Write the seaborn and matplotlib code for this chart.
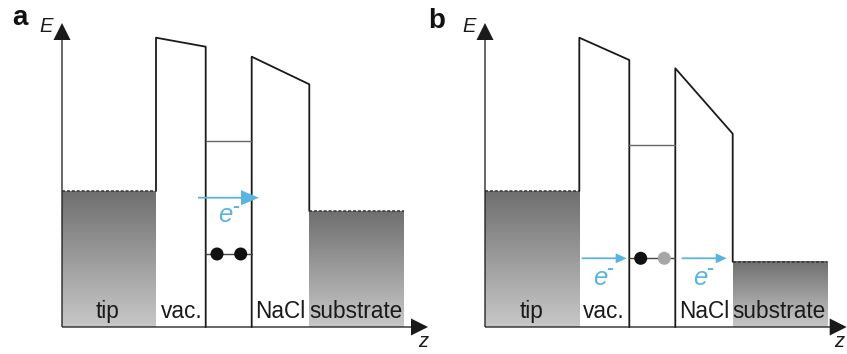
import numpy as np
import pandas as pd
import matplotlib
matplotlib.use("Agg")
import matplotlib.pyplot as plt
from matplotlib.colors import LinearSegmentedColormap
import seaborn as sns

# ---------------- data (schematic energy levels, arbitrary units) ----------------
# region edges along z: tip | vac. | molecule | NaCl | substrate
A_edges = [0, 94, 143.7, 189.7, 247.3, 342.3]
A_fermi_tip = 136
A_fermi_sub = 116
A_vac_top = [289.3, 280.3]
A_nacl_top = [270.3, 242.7]
A_level_unocc = 186.3
A_level_occ = 73
A_dot_z = [155, 178.7]
A_dot_colors = ["#111111", "#111111"]
A_e_arrows = [(136, 197, 129.3)]
A_e_labels = [(163.7, 105)]

B_edges = [0, 94.3, 144.3, 190.3, 247.7, 342.3]
B_fermi_tip = 136
B_fermi_sub = 65.3
B_vac_top = [289.3, 267.0]
B_nacl_top = [258.7, 193.3]
B_level_unocc = 182
B_level_occ = 68.7
B_dot_z = [155.7, 179.3]
B_dot_colors = ["#111111", "#a6a6a6"]
B_e_arrows = [(96.7, 141.7, 68.7), (196.7, 241.7, 68.7)]
B_e_labels = [(115, 42), (215, 42)]

region_labels = ["tip", "vac.", "NaCl", "substrate"]
A_label_z = [46, 119.7, 218, 294]
B_label_z = [47, 119, 219, 294]

panel_letters = ["a", "b"]

# ---------------- style ----------------
sns.set_style("white")
plt.rcParams["font.family"] = ["Liberation Sans", "DejaVu Sans"]

LINE = "#1a1a1a"
BLUE = "#5ab4e0"
grad_cmap = LinearSegmentedColormap.from_list("g", ["#c8c8c8", "#6f6f6f"])

fig = plt.figure(figsize=(8.47, 3.54), dpi=100)
ax_a = fig.add_axes([0, 0, 423 / 847, 1])
ax_b = fig.add_axes([423 / 847, 0, 424 / 847, 1])


def draw_panel(ax, edges, f_tip, f_sub, vac_top, nacl_top, lv_un, lv_occ,
               dot_z, dot_colors, e_arrows, e_labels, label_z, letter, zmax):
    grad = np.linspace(0, 1, 256).reshape(-1, 1)
    # gradient fills for tip and substrate
    ax.imshow(grad, cmap=grad_cmap, origin="lower", aspect="auto",
              extent=[edges[0], edges[1], 0, f_tip], zorder=1)
    ax.imshow(grad, cmap=grad_cmap, origin="lower", aspect="auto",
              extent=[edges[4], edges[5], 0, f_sub], zorder=1)

    # barrier outlines
    vac = pd.DataFrame({"z": [edges[1], edges[1], edges[2], edges[2]],
                        "E": [f_tip, vac_top[0], vac_top[1], 0]})
    nacl = pd.DataFrame({"z": [edges[3], edges[3], edges[4], edges[4]],
                         "E": [0, nacl_top[0], nacl_top[1], f_sub]})
    for df in (vac, nacl):
        sns.lineplot(data=df, x="z", y="E", sort=False, estimator=None,
                     color=LINE, lw=1.3, ax=ax, zorder=3)

    # Fermi levels (dashed)
    ax.plot([edges[0], edges[1]], [f_tip, f_tip], ls=(0, (2, 1.2)),
            color="#333333", lw=1.1, zorder=3)
    ax.plot([edges[4], edges[5]], [f_sub, f_sub], ls=(0, (2, 1.2)),
            color="#333333", lw=1.1, zorder=3)

    # molecular levels
    ax.plot([edges[2], edges[3]], [lv_un, lv_un], color="#666666", lw=1.0, zorder=3)
    ax.plot([edges[2], edges[3]], [lv_occ, lv_occ], color="#444444", lw=1.0, zorder=3)
    dots = pd.DataFrame({"z": dot_z, "E": [lv_occ] * len(dot_z), "c": dot_colors})
    sns.scatterplot(data=dots, x="z", y="E", hue="c", palette={c: c for c in set(dot_colors)},
                    s=88, edgecolor="none", legend=False, ax=ax, zorder=4)

    # energy axis and z axis
    ax.arrow(0, 0, 0, 304, width=1.3, head_width=17, head_length=17,
             length_includes_head=True, color=LINE, lw=0, zorder=5, clip_on=False)
    ax.arrow(0, 0, zmax, 0, width=1.3, head_width=17, head_length=17,
             length_includes_head=True, color=LINE, lw=0, zorder=5, clip_on=False)

    # electron arrows
    big = len(e_arrows) == 1
    for (z0, z1, e) in e_arrows:
        ax.arrow(z0, e, z1 - z0, 0, width=1.8,
                 head_width=15 if big else 10, head_length=18 if big else 11,
                 length_includes_head=True, color=BLUE, lw=0, zorder=5)
    for (z, e) in e_labels:
        ax.text(z, e, "e", color=BLUE, fontsize=18.5, style="italic",
                ha="center", va="baseline", zorder=6)
        ax.text(z + 10, e + 16, "-", color=BLUE, fontsize=15, fontweight="bold",
                ha="center", va="center", zorder=6)

    # region labels
    for lab, z in zip(region_labels, label_z):
        ax.text(z, 9, lab, fontsize=16.3, ha="center", va="baseline",
                color="#1a1a1a", zorder=6)

    # panel letter and axis labels
    ax.text(-50 if letter == "a" else -57, 302 if letter == "a" else 299, letter,
            fontsize=20, fontweight="bold", ha="left", va="baseline", color="#111111")
    ax.text(-23, 295, "E", fontsize=14.5, style="italic", ha="left", va="baseline",
            color="#1a1a1a")
    ax.text(zmax - 10 if letter == "a" else zmax - 13, -20, "z", fontsize=14.5,
            style="italic", ha="left", va="baseline", color="#1a1a1a", clip_on=False)

    ax.set_xlim(-62, 361 if letter == "a" else 362)
    ax.set_ylim(-27, 327)
    ax.set_axis_off()
    ax.patch.set_visible(False)


draw_panel(ax_a, A_edges, A_fermi_tip, A_fermi_sub, A_vac_top, A_nacl_top,
           A_level_unocc, A_level_occ, A_dot_z, A_dot_colors, A_e_arrows,
           A_e_labels, A_label_z, panel_letters[0], 366)
draw_panel(ax_b, B_edges, B_fermi_tip, B_fermi_sub, B_vac_top, B_nacl_top,
           B_level_unocc, B_level_occ, B_dot_z, B_dot_colors, B_e_arrows,
           B_e_labels, B_label_z, panel_letters[1], 361.7)

fig.savefig("out.png", dpi=100)
